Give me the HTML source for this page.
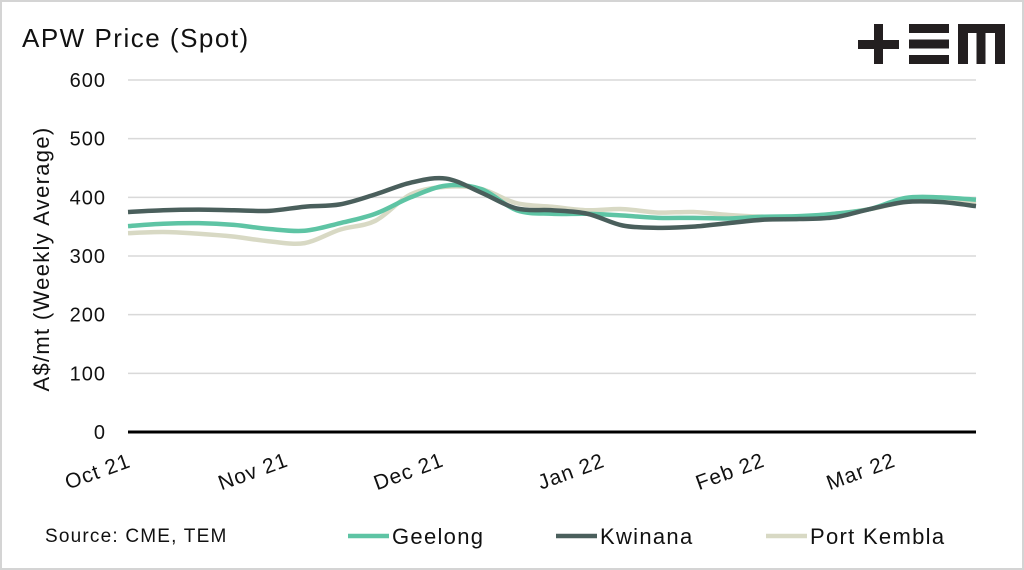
<!DOCTYPE html>
<html><head><meta charset="utf-8"><style>
html,body{margin:0;padding:0;background:#fff}
svg{display:block;font-family:"Liberation Sans",sans-serif}
</style></head><body>
<svg width="1024" height="570" viewBox="0 0 1024 570" id="chart">
<rect x="1" y="1" width="1022" height="568" fill="#fff" stroke="#d4d4d4" stroke-width="2"/>
<text x="22" y="47" font-size="26" letter-spacing="1.5" fill="#111">APW Price (Spot)</text>
<g fill="#231f20">
<rect x="858" y="40" width="41" height="9"/><rect x="874" y="24" width="9" height="40"/>
<rect x="909" y="24" width="40" height="9"/><rect x="909" y="39.5" width="40" height="9"/><rect x="909" y="55" width="40" height="9"/>
<rect x="958" y="24" width="47" height="9"/><rect x="958" y="24" width="10" height="40"/><rect x="976.5" y="24" width="9" height="40"/><rect x="995" y="24" width="10" height="40"/>
</g>
<g id="grid"></g>
<g id="lines"></g>
<g id="xlabels"></g>
<text transform="translate(49,259) rotate(-90)" text-anchor="middle" font-size="22" letter-spacing="1.3" fill="#111">A$/mt (Weekly Average)</text>
<text x="45" y="542" font-size="19" letter-spacing="1.2" fill="#111">Source: CME, TEM</text>
<g id="legend"></g>
</svg>
<script>
const yTicks=[0,100,200,300,400,500,600];
const monthLabels=["Oct 21","Nov 21","Dec 21","Jan 22","Feb 22","Mar 22"];
const monthPos=[0,4.4,8.8,13.4,17.9,21.6];
const seriesNames=["Geelong","Kwinana","Port Kembla"];
const geelong=[351,355,356,353,346,343,356,372,400,420,414,378,372,372,369,365,365,364,367,368,372,380,399,400,396];
const kwinana=[375,378,379,378,377,384,388,405,425,432,408,381,378,372,352,348,350,356,362,363,366,380,392,392,385];
const portKembla=[339,341,338,333,325,322,345,360,405,418,414,390,384,378,380,374,375,370,367,367,372,380,392,395,390];
const NS="http://www.w3.org/2000/svg";
const X0=128,X1=976,Y0=432,Y600=80;
const n=geelong.length;
function xs(i){return X0+(X1-X0)*i/(n-1);}
function ys(v){return Y0-(Y0-Y600)*v/600;}
const grid=document.getElementById('grid');
yTicks.forEach(t=>{
 if(t>0){const l=document.createElementNS(NS,'line');
 l.setAttribute('x1',X0);l.setAttribute('x2',X1);l.setAttribute('y1',ys(t));l.setAttribute('y2',ys(t));
 l.setAttribute('stroke','#d9d9d9');l.setAttribute('stroke-width','1.5');
 
 
 grid.appendChild(l);}
 const tx=document.createElementNS(NS,'text');
 tx.setAttribute('x',106);tx.setAttribute('y',ys(t)+7);tx.setAttribute('text-anchor','end');
 tx.setAttribute('font-size','20');tx.setAttribute('letter-spacing','1');tx.setAttribute('fill','#111');tx.textContent=t;
 
 
 grid.appendChild(tx);
});
const ax=document.createElementNS(NS,'line');
ax.setAttribute('x1',X0);ax.setAttribute('x2',X1);ax.setAttribute('y1',Y0);ax.setAttribute('y2',Y0);
ax.setAttribute('stroke','#000');ax.setAttribute('stroke-width','3');


grid.appendChild(ax);
function path(vals){
 const p=vals.map((v,i)=>[xs(i),ys(v)]);
 let d='M'+p[0][0]+','+p[0][1];
 for(let i=0;i<p.length-1;i++){
  const a=p[Math.max(i-1,0)],b=p[i],c=p[i+1],e=p[Math.min(i+2,p.length-1)];
  const c1=[b[0]+(c[0]-a[0])/6,b[1]+(c[1]-a[1])/6],c2=[c[0]-(e[0]-b[0])/6,c[1]-(e[1]-b[1])/6];
  d+=' C'+c1[0]+','+c1[1]+' '+c2[0]+','+c2[1]+' '+c[0]+','+c[1];
 }
 return d;
}
const colors=["#5ec4a4","#4a5f5c","#d8d9c4"];
const data=[geelong,kwinana,portKembla];
const lines=document.getElementById('lines');
[2,0,1].forEach(k=>{
 const pa=document.createElementNS(NS,'path');
 pa.setAttribute('d',path(data[k]));pa.setAttribute('fill','none');
 pa.setAttribute('stroke',colors[k]);pa.setAttribute('stroke-width','4.5');pa.setAttribute('stroke-linejoin','round');
 
 
 lines.appendChild(pa);
});
const xl=document.getElementById('xlabels');
monthLabels.forEach((m,i)=>{
 const x=xs(monthPos[i])-28,y=478;
 const t=document.createElementNS(NS,'text');
 t.setAttribute('transform','translate('+x+','+y+') rotate(-20)');
 t.setAttribute('text-anchor','middle');t.setAttribute('font-size','21');t.setAttribute('letter-spacing','1');t.setAttribute('fill','#111');
 t.textContent=m;
 
 
 xl.appendChild(t);
});
const lg=document.getElementById('legend');
const lx=[348,556,766];
seriesNames.forEach((s,k)=>{
 const g=document.createElementNS(NS,'g');
 
 
 const l=document.createElementNS(NS,'line');
 l.setAttribute('x1',lx[k]);l.setAttribute('x2',lx[k]+41);l.setAttribute('y1',536);l.setAttribute('y2',536);
 l.setAttribute('stroke',colors[k]);l.setAttribute('stroke-width','4.5');
 g.appendChild(l);
 const t=document.createElementNS(NS,'text');
 t.setAttribute('x',lx[k]+44);t.setAttribute('y',544);t.setAttribute('font-size','22');t.setAttribute('letter-spacing','1.3');t.setAttribute('fill','#111');
 t.textContent=s;g.appendChild(t);
 lg.appendChild(g);
});
</script>
</body></html>
